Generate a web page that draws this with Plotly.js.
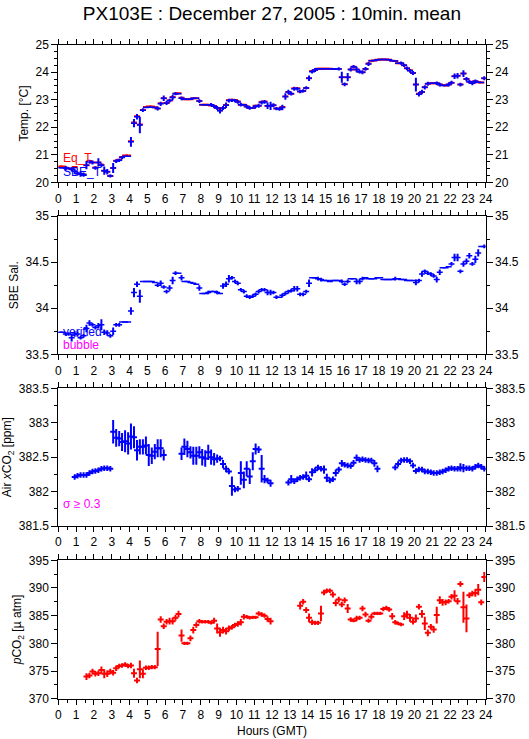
<!DOCTYPE html>
<html><head><meta charset="utf-8">
<script src="https://cdn.plot.ly/plotly-3.0.1.min.js"></script>
<style>body{margin:0;background:#fff}#chart{width:529px;height:739px}</style>
</head><body><div id="chart"></div>
<script>
// 10-minute bin centres (hours GMT) for temperature and salinity
const binHours = [
0.08,0.25,0.42,0.58,0.75,0.92, 1.08,1.25,1.42,1.58,1.75,1.92,
2.08,2.25,2.42,2.58,2.75,2.92, 3.08,3.25,3.42,3.58,3.75,3.92,
4.08,4.25,4.42,4.58,4.75,4.92, 5.08,5.25,5.42,5.58,5.75,5.92,
6.08,6.25,6.42,6.58,6.75,6.92, 7.08,7.25,7.42,7.58,7.75,7.92,
8.08,8.25,8.42,8.58,8.75,8.92, 9.08,9.25,9.42,9.58,9.75,9.92,
10.08,10.25,10.42,10.58,10.75,10.92, 11.08,11.25,11.42,11.58,11.75,11.92,
12.08,12.25,12.42,12.58,12.75,12.92, 13.08,13.25,13.42,13.58,13.75,13.92,
14.08,14.25,14.42,14.58,14.75,14.92, 15.08,15.25,15.42,15.58,15.75,15.92,
16.08,16.25,16.42,16.58,16.75,16.92, 17.08,17.25,17.42,17.58,17.75,17.92,
18.08,18.25,18.42,18.58,18.75,18.92, 19.08,19.25,19.42,19.58,19.75,19.92,
20.08,20.25,20.42,20.58,20.75,20.92, 21.08,21.25,21.42,21.58,21.75,21.92,
22.08,22.25,22.42,22.58,22.75,22.92, 23.08,23.25,23.42,23.58,23.75,23.92];

const sbeT = [
20.53,20.53,20.51,20.50,20.47,20.40, 20.32,20.30,20.28,20.62,20.75,20.72,
20.52,20.72,20.62,20.42,20.38,20.23, 20.52,20.77,20.80,20.90,20.95,20.95,
21.47,22.15,22.38,22.08,22.62,22.72, 22.73,22.73,22.72,22.68,22.85,23.05,
22.88,22.97,23.08,23.22,23.22,23.05, 23.02,23.02,23.02,23.05,23.05,22.95,
22.82,22.82,22.82,22.82,22.76,22.70, 22.60,22.70,22.80,22.97,22.98,22.97,
22.92,22.82,22.82,22.75,22.70,22.70, 22.76,22.78,22.90,22.92,22.78,22.78,
22.80,22.68,22.66,22.72,23.12,23.28, 23.22,23.40,23.40,23.30,23.32,23.43,
23.78,24.02,24.08,24.13,24.13,24.13, 24.13,24.13,24.12,24.12,24.12,23.82,
23.56,23.82,24.10,24.20,24.10,24.02, 24.00,24.12,24.30,24.42,24.43,24.45,
24.46,24.46,24.46,24.45,24.42,24.41, 24.33,24.33,24.25,24.14,24.05,23.97,
23.55,23.20,23.28,23.45,23.58,23.60, 23.60,23.60,23.55,23.52,23.52,23.55,
23.62,23.85,23.87,23.55,23.95,23.75, 23.65,23.60,23.67,23.64,23.63,23.78];

const sbeTErr = [
0,0,0.08,0,0.08,0.1, 0.07,0.1,0.08,0.15,0.07,0.07,
0.06,0.15,0.07,0.15,0.1,0.06, 0.18,0.07,0.06,0.06,0,0,
0.18,0.15,0.1,0.3,0.07,0, 0,0,0,0.07,0.08,0.1,
0.07,0.07,0.1,0.06,0,0.07, 0,0,0,0,0,0.07,
0,0,0,0.06,0.07,0.07, 0.1,0.07,0.1,0.07,0.06,0.06,
0.07,0.07,0,0.07,0.06,0, 0.06,0.07,0.07,0.07,0.12,0.15,
0.07,0.06,0.06,0.1,0.12,0.08, 0.07,0.07,0.06,0.06,0.06,0.06,
0.1,0.07,0.07,0,0,0, 0,0,0,0,0.06,0.2,
0.07,0.15,0.07,0.06,0.1,0.07, 0.07,0.07,0.07,0,0,0,
0,0,0,0,0,0, 0,0.06,0.06,0.07,0.07,0.07,
0.25,0.08,0.08,0.08,0.07,0, 0,0.06,0.07,0,0,0.07,
0.07,0.1,0.1,0.07,0.12,0.08, 0.07,0.07,0.07,0,0,0.07];

const eqT = [
20.57,20.57,20.53,20.50,20.47,20.56, 20.32,20.30,20.28,20.62,20.77,20.72,
20.54,20.72,20.64,20.42,20.38,20.23, 20.52,20.78,20.82,20.92,20.97,20.97,
21.49,22.17,22.40,22.10,22.63,22.74, 22.75,22.75,22.73,22.68,22.87,23.05,
22.88,22.97,23.10,23.23,23.24,23.07, 23.02,23.02,23.02,23.05,23.05,22.95,
22.82,22.82,22.82,22.79,22.77,22.70, 22.62,22.70,22.81,22.98,23.00,22.99,
22.94,22.82,22.82,22.75,22.70,22.70, 22.78,22.78,22.92,22.94,22.77,22.78,
22.80,22.68,22.66,22.74,23.12,23.28, 23.22,23.42,23.42,23.30,23.32,23.43,
23.78,24.04,24.08,24.13,24.13,24.13, 24.13,24.13,24.12,24.12,24.12,23.82,
23.56,23.82,24.10,24.20,24.10,24.02, 24.00,24.12,24.32,24.42,24.43,24.45,
24.46,24.46,24.46,24.45,24.42,24.41, 24.33,24.33,24.25,24.14,24.07,23.97,
23.55,23.22,23.28,23.45,23.58,23.60, 23.60,23.60,23.55,23.54,23.52,23.55,
23.62,23.85,23.87,23.55,23.95,23.75, 23.65,23.62,23.67,23.64,23.63,23.78];

const sbeSal = [
33.74,33.74,33.72,33.72,33.68,33.72, 33.72,33.68,33.70,33.78,33.84,33.82,
33.79,33.81,33.82,33.74,33.73,33.70, 33.75,33.82,33.82,33.85,33.85,33.85,
33.97,34.17,34.26,34.13,34.29,34.29, 34.29,34.29,34.28,34.25,34.27,34.23,
34.18,34.22,34.30,34.38,34.38,34.33, 34.29,34.29,34.28,34.27,34.26,34.22,
34.16,34.16,34.17,34.18,34.18,34.17, 34.16,34.24,34.26,34.32,34.33,34.29,
34.27,34.20,34.18,34.13,34.12,34.13, 34.15,34.18,34.20,34.20,34.17,34.17,
34.17,34.12,34.12,34.14,34.16,34.18, 34.19,34.21,34.21,34.15,34.15,34.18,
34.27,34.33,34.33,34.32,34.31,34.30, 34.30,34.29,34.30,34.30,34.30,34.29,
34.26,34.29,34.32,34.32,34.29,34.29, 34.32,34.33,34.32,34.32,34.32,34.33,
34.33,34.31,34.31,34.31,34.31,34.32, 34.32,34.31,34.31,34.30,34.30,34.30,
34.28,34.30,34.37,34.40,34.38,34.37, 34.35,34.31,34.39,34.44,34.44,34.45,
34.48,34.55,34.55,34.40,34.48,34.51, 34.57,34.48,34.53,34.60,34.67,34.67];

const sbeSalErr = [
0,0,0.02,0.02,0.04,0.03, 0.03,0.02,0.02,0.04,0.03,0.02,
0.02,0.03,0.06,0.03,0.03,0.02, 0.04,0.02,0.02,0,0,0,
0.04,0.05,0.03,0.07,0,0, 0,0,0,0.02,0.03,0.02,
0.02,0.03,0.04,0.02,0,0.03, 0,0,0,0,0,0.03,
0,0,0.02,0,0,0.02, 0,0.03,0.03,0.04,0.02,0.02,
0.02,0.02,0.02,0.02,0.02,0.02, 0.02,0.02,0.02,0.02,0.03,0.03,
0.02,0.02,0,0.02,0.02,0.02, 0.02,0.03,0.03,0.02,0.02,0.02,
0.04,0,0,0.02,0.02,0, 0,0,0,0,0,0.02,
0.02,0.02,0,0,0.03,0.03, 0.02,0,0,0,0,0,
0,0,0,0,0,0.02, 0,0,0,0,0,0,
0.03,0.02,0.03,0.02,0.02,0.02, 0.02,0.03,0.03,0,0,0,
0.02,0.04,0.04,0.02,0.03,0.03, 0.03,0.02,0.04,0.04,0,0.02];

const xco2Hours = [
0.92,1.08,1.25,1.42,1.58,1.75,1.92,2.08,2.25,2.42,2.58,2.75,2.92,
3.08,3.25,3.42,3.58,3.75,3.92,4.08,4.25,4.42,4.58,4.75,4.92,5.08,5.25,5.42,5.58,5.75,5.92,
6.92,7.08,7.25,7.42,7.58,7.75,7.92,8.08,8.25,8.42,8.58,8.75,8.92,9.08,9.25,9.42,9.58,9.75,9.92,
10.08,10.25,10.42,10.58,10.75,10.92,11.08,11.25,11.42,11.58,11.75,11.92,
12.92,13.08,13.25,13.42,13.58,13.75,13.92,14.08,14.25,14.42,14.58,14.75,14.92,15.08,15.25,15.42,
15.58,15.75,15.92,16.08,16.25,16.42,16.58,16.75,16.92,17.08,17.25,17.42,17.58,17.75,17.92,
18.92,19.08,19.25,19.42,19.58,19.75,19.92,20.08,20.25,20.42,20.58,20.75,20.92,21.08,21.25,21.42,
21.58,21.75,21.92,22.08,22.25,22.42,22.58,22.75,22.92,23.08,23.25,23.42,23.58,23.75,23.92];

const airXco2 = [
382.21,382.23,382.24,382.24,382.24,382.27,382.29,382.30,382.31,382.33,382.34,382.34,382.33,
382.87,382.78,382.77,382.72,382.73,382.70,382.80,382.79,382.60,382.65,382.65,382.67,382.53,382.52,382.58,382.63,382.63,382.53,
382.55,382.65,382.62,382.57,382.52,382.52,382.57,382.50,382.48,382.57,382.50,382.47,382.48,382.48,382.40,382.33,382.29,382.08,382.03,
382.04,382.27,382.17,382.33,382.22,382.44,382.62,382.61,382.33,382.18,382.16,382.12,
382.13,382.18,382.15,382.18,382.20,382.21,382.23,382.18,382.28,382.31,382.35,382.33,382.32,382.20,382.16,382.18,
382.27,382.32,382.41,382.39,382.38,382.37,382.42,382.49,382.46,382.47,382.46,382.45,382.45,382.41,382.33,
382.35,382.40,382.45,382.46,382.46,382.44,382.38,382.30,382.32,382.32,382.29,382.29,382.28,382.27,382.27,382.28,
382.29,382.31,382.33,382.34,382.33,382.33,382.35,382.34,382.34,382.34,382.33,382.36,382.38,382.36,382.33];

const airXco2Err = [
0.04,0.04,0.04,0.04,0.04,0.04,0.04,0.04,0.04,0.04,0.04,0.04,0.04,
0.17,0.13,0.11,0.13,0.16,0.16,0.19,0.16,0.15,0.11,0.11,0.13,0.16,0.12,0.11,0.13,0.13,0.08,
0.09,0.12,0.12,0.09,0.13,0.13,0.09,0.12,0.12,0.11,0.11,0.09,0.06,0.04,0.06,0.05,0.04,0.14,0.04,
0.04,0.17,0.12,0.11,0.11,0.13,0.08,0.05,0.2,0.06,0.04,0.05,
0.04,0.06,0.04,0.04,0.04,0.04,0.06,0.04,0.06,0.04,0.04,0.04,0.06,0.06,0.04,0.04,
0.05,0.04,0.05,0.04,0.04,0.04,0.04,0.05,0.04,0.04,0.04,0.04,0.04,0.05,0.05,
0.04,0.04,0.04,0.04,0.04,0.04,0.04,0.04,0.04,0.04,0.04,0.04,0.04,0.04,0.04,0.04,
0.04,0.04,0.04,0.04,0.04,0.04,0.06,0.06,0.04,0.04,0.04,0.04,0.04,0.04,0.04];

const pco2Hours = [
1.58,1.75,1.92, 2.08,2.25,2.42,2.58,2.75,2.92, 3.08,3.25,3.42,3.58,3.75,3.92,
4.08,4.25,4.42,4.58,4.75,4.92, 5.08,5.25,5.42,5.58,5.75,5.92, 6.08,6.25,6.42,6.58,6.75,6.92,
7.08,7.25,7.42,7.58,7.75,7.92, 8.08,8.25,8.42,8.58,8.75,8.92, 9.08,9.25,9.42,9.58,9.75,9.92,
10.08,10.25,10.42,10.58,10.75,10.92, 11.08,11.25,11.42,11.58,11.75,11.92,
13.58,13.75,13.92, 14.08,14.25,14.42,14.58,14.75,14.92, 15.08,15.25,15.42,15.58,15.75,15.92,
16.08,16.25,16.42,16.58,16.75,16.92, 17.08,17.25,17.42,17.58,17.75,17.92, 18.08,18.25,18.42,18.58,18.75,18.92,
19.08,19.25,19.42,19.58,19.75,19.92, 20.08,20.25,20.42,20.58,20.75,20.92, 21.08,21.25,21.42,21.58,21.75,21.92,
22.08,22.25,22.42,22.58,22.75,22.92, 23.08,23.25,23.42,23.58,23.75,23.92];

const pco2 = [
374.0,374.2,374.9, 374.5,374.6,375.2,374.5,374.5,374.9, 374.7,375.5,375.9,376.0,376.2,375.9,
376.0,374.6,373.3,375.3,374.5,375.6, 375.6,375.7,375.7,379.0,384.3,383.1, 383.9,384.0,384.0,384.6,385.3,381.4,
380.0,380.0,380.9,382.4,383.3,384.0, 383.9,383.9,383.9,383.7,384.1,382.7, 382.0,382.4,382.2,382.7,382.9,383.3,
383.5,383.8,384.8,384.8,384.6,384.7, 384.7,385.4,385.2,385.0,384.4,384.0,
386.8,387.5,386.0, 384.6,383.8,383.7,383.7,385.4,389.2, 389.5,389.5,388.8,387.3,387.9,387.0,
387.8,386.3,384.3,384.1,384.5,384.6, 386.3,385.2,384.1,384.8,385.4,385.4, 385.4,386.2,386.4,386.1,384.9,383.8,
383.6,383.4,384.9,385.2,384.6,383.9, 384.5,386.6,385.3,383.6,381.9,383.0, 382.5,385.1,387.8,387.4,387.4,387.6,
388.4,388.6,387.6,390.7,386.5,384.5, 388.7,389.0,389.1,389.7,387.4,392.0];

const pco2Err = [
0.6,0.5,0.5, 0.5,0.5,0.6,0.8,0.6,0.5, 0.5,0.5,0.4,0.4,0.4,0.4,
0.5,0.8,0.5,1.6,0.8,0.4, 0.4,0.4,0.4,3.1,0.6,0.5, 0.5,0.6,0.6,0.5,0.6,1.1,
0.3,0.3,0.5,0.6,0.5,0.4, 0.3,0.3,0.3,0.3,0.5,0.9, 0.8,0.6,0.6,0.5,0.4,0.4,
0.5,0.6,0.5,0.3,0.3,0.3, 0.3,0.4,0.4,0.4,0.5,0.6,
0.7,0.5,0.5, 0.8,0.5,0.4,0.4,1.4,0.5, 0.4,0.4,0.5,0.6,0.5,0.5,
0.5,0.8,0.4,0.3,0.5,0.4, 0.5,0.5,0.4,0.5,0.3,0.3, 0.3,0.4,0.4,0.4,0.6,0.4,
0.3,0.3,0.7,0.7,0.7,0.5, 0.7,0.5,0.7,1.2,0.6,0.5, 0.6,1.5,0.7,0.6,0.5,0.4,
0.5,1.0,0.6,0.5,2.8,2.5, 0.5,0.5,0.7,1.0,0.5,0.9];

const xTickVals = [0,1,2,3,4,5,6,7,8,9,10,11,12,13,14,15,16,17,18,19,20,21,22,23,24];

const BLUE = '#0000ff', RED = '#ff0000', MAG = '#ff00ff';
const HALF_BAR = 10/60;
const FONT = 'Liberation Sans, Arial, Helvetica, sans-serif';

function barTrace(x, y, err, color, xa, ya, thx, thy) {
  const t = {type:'scatter', mode:'markers', x:x, y:y, xaxis:xa, yaxis:ya,
    marker:{size:2, color:color, opacity:0}, hoverinfo:'skip', showlegend:false,
    error_x:{type:'constant', value:HALF_BAR, color:color, thickness:thx, width:0}};
  if (err) t.error_y = {type:'data', array:err, visible:true, color:color, thickness:thy, width:0};
  return t;
}
function ghost(x, y, xa, ya) {
  return {type:'scatter', mode:'markers', x:x, y:y, xaxis:xa, yaxis:ya,
    marker:{size:2, opacity:0}, hoverinfo:'skip', showlegend:false};
}

const data = [
  barTrace(binHours, eqT, null, RED, 'x', 'y', 2, 2),
  barTrace(binHours, sbeT, sbeTErr, BLUE, 'x', 'y', 1.5, 2),
  barTrace(binHours, sbeSal, sbeSalErr, BLUE, 'x2', 'y2', 1.5, 2),
  barTrace(xco2Hours, airXco2, airXco2Err, BLUE, 'x3', 'y3', 2, 2),
  barTrace(pco2Hours, pco2, pco2Err, RED, 'x4', 'y4', 2, 2),
  ghost(binHours, sbeT, 'x', 'y5'),
  ghost(binHours, sbeSal, 'x2', 'y6'),
  ghost(xco2Hours, airXco2, 'x3', 'y7'),
  ghost(pco2Hours, pco2, 'x4', 'y8')
];

const W = 529, H = 739;
const xDom = [58.3/W, 485.7/W];
const yDoms = [[1-182.3/H, 1-44.7/H],[1-354.3/H, 1-216/H],[1-526/H, 1-388.3/H],[1-698.7/H, 1-560.3/H]];

function xAxis(i) {
  return {domain:xDom, anchor:'y'+(i===1?'':i), range:[0,24], tickvals:xTickVals,
    ticks:'outside', ticklen:5, tickcolor:'#000', showline:true, linecolor:'#000', linewidth:1,
    mirror:'ticks', showgrid:false, zeroline:false, fixedrange:true,
    minor:{dtick:0.5, tick0:0, ticks:'outside', ticklen:3, tickcolor:'#000', showgrid:false},
    tickfont:{size:12, color:'#000', family:FONT}};
}
function yAxis(i, range, dtick, minor, title) {
  return {domain:yDoms[i-1], anchor:'x'+(i===1?'':i), range:range, dtick:dtick, tick0:range[0],
    ticks:'outside', ticklen:6, tickcolor:'#000', showline:true, linecolor:'#000', linewidth:1,
    mirror:'ticks', showgrid:false, zeroline:false, fixedrange:true,
    minor:{dtick:minor, ticks:'outside', ticklen:3, tickcolor:'#000', showgrid:false},
    tickfont:{size:12, color:'#000', family:FONT},
    title:{text:title, font:{size:12, color:'#000', family:FONT}, standoff:4}};
}
function yRight(i, range, dtick, minor) {
  return {overlaying:'y'+(i===1?'':i), anchor:'x'+(i===1?'':i), side:'right', range:range, dtick:dtick, tick0:range[0],
    ticks:'outside', ticklen:6, tickcolor:'#000', showline:false, showgrid:false, zeroline:false, fixedrange:true,
    minor:{dtick:minor, ticks:'outside', ticklen:3, tickcolor:'#000', showgrid:false},
    tickfont:{size:12, color:'#000', family:FONT}};
}

const layout = {
  width:W, height:H, margin:{l:0, r:0, t:0, b:0},
  paper_bgcolor:'#fff', plot_bgcolor:'#fff',
  font:{family:FONT, color:'#000', size:12},
  title:{text:'PX103E : December 27, 2005 : 10min. mean', x:0.514, xref:'paper', xanchor:'center',
    y:1-13/H, yref:'container', yanchor:'middle', font:{size:19, color:'#000', family:FONT}},
  xaxis:xAxis(1), xaxis2:xAxis(2), xaxis3:xAxis(3), xaxis4:xAxis(4),
  yaxis:yAxis(1,[20,25],1,0.25,'Temp. [°C]'),
  yaxis2:yAxis(2,[33.5,35],0.5,0.25,'SBE Sal.'),
  yaxis3:yAxis(3,[381.5,383.5],0.5,0.25,'Air <i>x</i>CO<sub>2</sub> [ppm]'),
  yaxis4:yAxis(4,[370,395],5,2.5,'<i>p</i>CO<sub>2</sub> [µ atm]'),
  yaxis5:yRight(1,[20,25],1,0.25),
  yaxis6:yRight(2,[33.5,35],0.5,0.25),
  yaxis7:yRight(3,[381.5,383.5],0.5,0.25),
  yaxis8:yRight(4,[370,395],5,2.5),
  annotations:[
    {text:'Eq_T', x:61/W, y:1-158/H, xref:'paper', yref:'paper', xanchor:'left', yanchor:'middle', showarrow:false, font:{size:12, color:RED, family:FONT}},
    {text:'SBE_T', x:61/W, y:1-172/H, xref:'paper', yref:'paper', xanchor:'left', yanchor:'middle', showarrow:false, font:{size:12, color:BLUE, family:FONT}},
    {text:'verified', x:61/W, y:1-332/H, xref:'paper', yref:'paper', xanchor:'left', yanchor:'middle', showarrow:false, font:{size:12, color:BLUE, family:FONT}},
    {text:'bubble', x:61/W, y:1-345/H, xref:'paper', yref:'paper', xanchor:'left', yanchor:'middle', showarrow:false, font:{size:12, color:MAG, family:FONT}},
    {text:'σ ≥ 0.3', x:61/W, y:1-504/H, xref:'paper', yref:'paper', xanchor:'left', yanchor:'middle', showarrow:false, font:{size:12, color:MAG, family:FONT}},
    {text:'Hours (GMT)', x:272/W, y:1-731/H, xref:'paper', yref:'paper', xanchor:'center', yanchor:'middle', showarrow:false, font:{size:12, color:'#000', family:FONT}}
  ]
};

Plotly.newPlot('chart', data, layout, {staticPlot:true, displayModeBar:false});
</script>
</body></html>
